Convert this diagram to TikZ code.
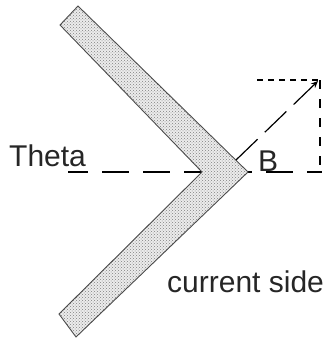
\documentclass[tikz,border=0pt]{standalone}
\usepackage{fontspec}
\setmainfont{Liberation Sans}
\usetikzlibrary{patterns,arrows.meta}
\begin{document}
\begin{tikzpicture}[x=1pt,y=-1pt,
  lbl/.style={inner sep=0pt,anchor=base west,font=\fontsize{30}{32}\selectfont,text=black!85},
  guide/.style={line width=1.2pt,black}]
\useasboundingbox (0,0) rectangle (331,341);
% horizontal dashed line
\coordinate (h1) at (68,172);
\coordinate (h2) at (322,172);
\draw[guide,dash pattern=on 27pt off 14pt,dash phase=7pt] (h1) -- (h2);
% chevron
\coordinate (a) at (78,6);
\coordinate (b) at (248,172);
\coordinate (c) at (76,337);
\coordinate (d) at (59,314);
\coordinate (e) at (202,172);
\coordinate (f) at (60,25);
\fill[gray!15] (a) -- (b) -- (c) -- (d) -- (e) -- (f) -- cycle;
\fill[pattern=crosshatch dots,pattern color=gray] (a) -- (b) -- (c) -- (d) -- (e) -- (f) -- cycle;
\draw[gray!60!black,line width=0.9pt] (a) -- (b) -- (c) -- (d) -- (e) -- (f) -- cycle;
% dashed rectangle
\coordinate (r1) at (257,80);
\coordinate (r2) at (320,80);
\coordinate (r3) at (320,172);
\draw[guide,dash pattern=on 6pt off 5pt] (r1) -- (r2);
\draw[guide,dash pattern=on 9pt off 10pt] (r2) -- (r3);
% diagonal arrow
\coordinate (s) at (236,160);
\coordinate (t) at (318,81);
\draw[guide,dash pattern=on 30pt off 10pt,-{Stealth[length=7pt,width=6pt]}] (s) -- (t);
% labels
\node[lbl] (theta) at (9,166) {Theta};
\node[lbl] (B) at (258,171) {B};
\node[lbl] (cs) at (167,292) {current side};
\end{tikzpicture}
\end{document}
